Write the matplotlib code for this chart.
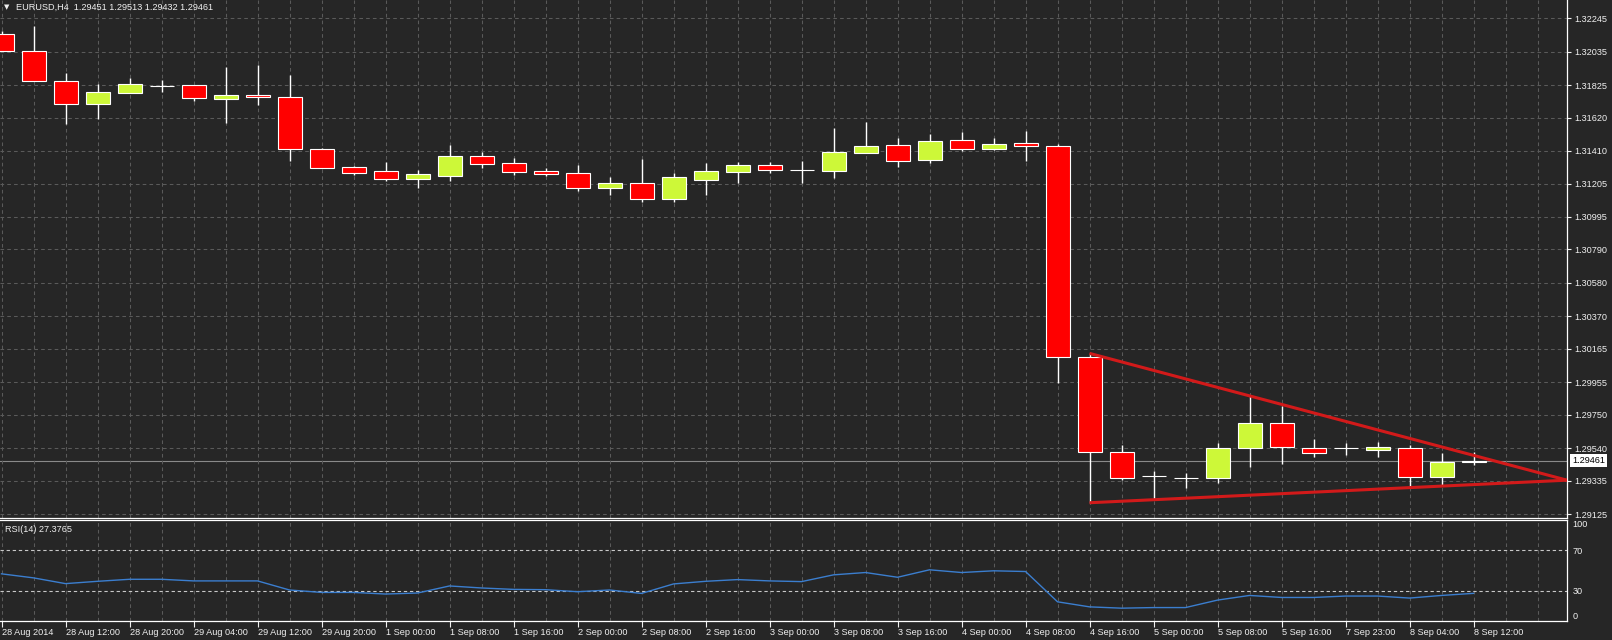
import matplotlib
matplotlib.use('Agg')
import matplotlib.pyplot as plt
from matplotlib.patches import Rectangle

plt.rcParams['font.family'] = ['Liberation Sans', 'DejaVu Sans']

symbol = 'EURUSD,H4'

# H4 bars, 28 Aug 2014 .. 8 Sep 2014 12:00
opens = [1.32146, 1.32041, 1.31848, 1.31704, 1.31777, 1.31821, 1.31823, 1.31739,
         1.31760, 1.31748, 1.31420, 1.31307, 1.31282, 1.31235, 1.31254, 1.31376,
         1.31332, 1.31282, 1.31269, 1.31179, 1.31208, 1.31110, 1.31229, 1.31280,
         1.31322, 1.31290, 1.31286, 1.31400, 1.31445, 1.31356, 1.31477, 1.31425,
         1.31460, 1.31439, 1.30111, 1.29513, 1.29364, 1.29354, 1.29350, 1.29539,
         1.29696, 1.29542, 1.29539, 1.29528, 1.29539, 1.29360, 1.29451]
highs = [1.32165, 1.32198, 1.31899, 1.31831, 1.31869, 1.31857, 1.31823, 1.31940,
         1.31951, 1.31888, 1.31429, 1.31317, 1.31339, 1.31290, 1.31448, 1.31403,
         1.31366, 1.31303, 1.31322, 1.31246, 1.31357, 1.31271, 1.31334, 1.31341,
         1.31341, 1.31347, 1.31555, 1.31594, 1.31494, 1.31518, 1.31532, 1.31494,
         1.31536, 1.31454, 1.30136, 1.29559, 1.29398, 1.29385, 1.29570, 1.29874,
         1.29805, 1.29595, 1.29574, 1.29580, 1.29559, 1.29511, 1.29513]
lows = [1.32041, 1.31848, 1.31580, 1.31613, 1.31775, 1.31783, 1.31726, 1.31588,
        1.31699, 1.31347, 1.31301, 1.31261, 1.31221, 1.31179, 1.31221, 1.31305,
        1.31259, 1.31254, 1.31160, 1.31133, 1.31091, 1.31091, 1.31133, 1.31210,
        1.31273, 1.31210, 1.31242, 1.31394, 1.31311, 1.31336, 1.31412, 1.31416,
        1.31347, 1.29948, 1.29196, 1.29339, 1.29218, 1.29291, 1.29322, 1.29423,
        1.29438, 1.29482, 1.29496, 1.29482, 1.29301, 1.29307, 1.29432]
closes = [1.32041, 1.31848, 1.31704, 1.31779, 1.31831, 1.31821, 1.31745, 1.31760,
          1.31748, 1.31420, 1.31301, 1.31273, 1.31235, 1.31263, 1.31378, 1.31330,
          1.31280, 1.31267, 1.31179, 1.31208, 1.31110, 1.31246, 1.31284, 1.31322,
          1.31292, 1.31290, 1.31404, 1.31441, 1.31349, 1.31473, 1.31425, 1.31454,
          1.31439, 1.30111, 1.29513, 1.29350, 1.29364, 1.29354, 1.29539, 1.29696,
          1.29545, 1.29507, 1.29539, 1.29545, 1.29360, 1.29451, 1.29461]

rsi = [46.7, 42.7, 37.0, 39.3, 41.3, 41.3, 39.7, 39.7, 39.7, 30.7, 28.3, 28.3,
       26.7, 27.7, 34.7, 32.7, 31.3, 31.0, 29.0, 30.7, 27.3, 36.7, 39.3, 41.0,
       39.7, 39.0, 45.7, 48.0, 43.3, 50.7, 48.0, 49.7, 49.0, 19.0, 14.0, 12.7,
       13.3, 13.3, 20.7, 25.3, 23.3, 23.3, 24.7, 24.7, 22.7, 25.3, 27.3765]

time_labels = ['28 Aug 2014', '28 Aug 12:00', '28 Aug 20:00', '29 Aug 04:00',
               '29 Aug 12:00', '29 Aug 20:00', '1 Sep 00:00', '1 Sep 08:00',
               '1 Sep 16:00', '2 Sep 00:00', '2 Sep 08:00', '2 Sep 16:00',
               '3 Sep 00:00', '3 Sep 08:00', '3 Sep 16:00', '4 Sep 00:00',
               '4 Sep 08:00', '4 Sep 16:00', '5 Sep 00:00', '5 Sep 08:00',
               '5 Sep 16:00', '7 Sep 23:00', '8 Sep 04:00', '8 Sep 12:00']

price_ticks = [1.32245, 1.32035, 1.31825, 1.31620, 1.31410, 1.31205, 1.30995,
               1.30790, 1.30580, 1.30370, 1.30165, 1.29955, 1.29750, 1.29540,
               1.29335, 1.29125]
rsi_ticks = [0, 30, 70, 100]
rsi_levels = [30, 70]

# triangle drawn on the chart
trend_x = [34, 48.92]
trend_upper = [1.30136, 1.29338]
trend_lower = [1.29196, 1.29338]

BG = '#262626'
GRID = '#5a5a5a'
BULL = '#cdf838'
BEAR = '#ff0000'
TXT = '#f0f0f0'
FS = 6.6

W, H = 1612, 640
fig = plt.figure(figsize=(W / 100, H / 100), dpi=100, facecolor=BG)
ax = fig.add_axes([0, 122 / H, 1567 / W, 518 / H], facecolor=BG)
ax2 = fig.add_axes([0, 19 / H, 1567 / W, 101 / H], facecolor=BG)

n = len(closes)
xmin, xmax = -0.047, 48.92
dash = (0, (3.5, 3))

# candles
bw = 0.75
for i in range(n):
    o, h, l, c = opens[i], highs[i], lows[i], closes[i]
    ax.vlines(i, l, h, color='white', lw=1, zorder=2)
    if c > o:
        col = BULL
    elif c < o:
        col = BEAR
    else:
        col = 'white'
    ax.add_patch(Rectangle((i - bw / 2, min(o, c)), bw, abs(c - o),
                           facecolor=col, edgecolor='white', lw=0.8, zorder=3))

ax.plot(trend_x, trend_upper, color='#d21a1a', lw=2.2, zorder=4, solid_capstyle='butt')
ax.plot(trend_x, trend_lower, color='#d21a1a', lw=2.2, zorder=4, solid_capstyle='butt')

ax.axhline(closes[-1], color='#8a8a8a', lw=0.8, zorder=1)

ax.set_xlim(xmin, xmax)
ax.set_ylim(1.29100, 1.32360)
ax.set_xticks(range(49))
ax.tick_params(axis='x', length=0, labelbottom=False)
ax.yaxis.tick_right()
ax.set_yticks(price_ticks, labels=[f'{p:.5f}' for p in price_ticks])
ax.tick_params(axis='y', colors=TXT, length=3, width=0.8, pad=2, labelsize=FS)
ax.grid(True, color=GRID, lw=0.75, linestyle=dash)
for s in ['left', 'top']:
    ax.spines[s].set_visible(False)
for s in ['right', 'bottom']:
    ax.spines[s].set_color('white')
    ax.spines[s].set_linewidth(0.9)

ax.annotate(f'{closes[-1]:.5f}', xy=(1, closes[-1]), xycoords=('axes fraction', 'data'),
            xytext=(5, 0), textcoords='offset pixels', ha='left', va='center',
            color='black', fontsize=FS,
            bbox=dict(boxstyle='square,pad=0.2', fc='white', ec='none'),
            annotation_clip=False, zorder=10)

fig.text(4 / W, 1 - 7.5 / H, '\u25bc', color=TXT, fontsize=5, va='center', ha='left',
         family=['DejaVu Sans'])
fig.text(16 / W, 1 - 7.5 / H,
         f'{symbol}  {opens[-1]:.5f} {highs[-1]:.5f} {lows[-1]:.5f} {closes[-1]:.5f}',
         color=TXT, fontsize=FS, va='center', ha='left')

# RSI panel
ax2.plot(range(n), rsi, color='#3b7ecf', lw=1, zorder=3)
for lv in rsi_levels:
    ax2.axhline(lv, color='#c8c8c8', lw=0.8, linestyle=(0, (3, 2.5)), zorder=2)
ax2.set_xlim(xmin, xmax)
ax2.set_ylim(0, 100)
ax2.set_xticks(range(0, n, 2), labels=time_labels)
ax2.set_xticks(range(49), minor=True)
for lab in ax2.get_xticklabels():
    lab.set_ha('left')
ax2.tick_params(axis='x', which='major', colors=TXT, length=4, width=0.8, pad=1, labelsize=FS)
ax2.tick_params(axis='x', which='minor', length=0)
ax2.grid(True, axis='x', which='both', color=GRID, lw=0.75, linestyle=dash)
ax2.yaxis.tick_right()
ax2.set_yticks(rsi_ticks, labels=[str(t) for t in rsi_ticks])
ax2.tick_params(axis='y', colors=TXT, length=0, pad=4, labelsize=FS)
ylabs = ax2.get_yticklabels()
ylabs[0].set_va('bottom')
ylabs[-1].set_va('top')
ax2.spines['left'].set_visible(False)
for s in ['right', 'bottom', 'top']:
    ax2.spines[s].set_color('white')
    ax2.spines[s].set_linewidth(0.9)
ax2.text(5 / 1567, 1 - 9 / 101, f'RSI(14) {rsi[-1]:.4f}', transform=ax2.transAxes,
         color=TXT, fontsize=FS, va='center', ha='left')

fig.savefig('out.png', dpi=100, facecolor=BG)
